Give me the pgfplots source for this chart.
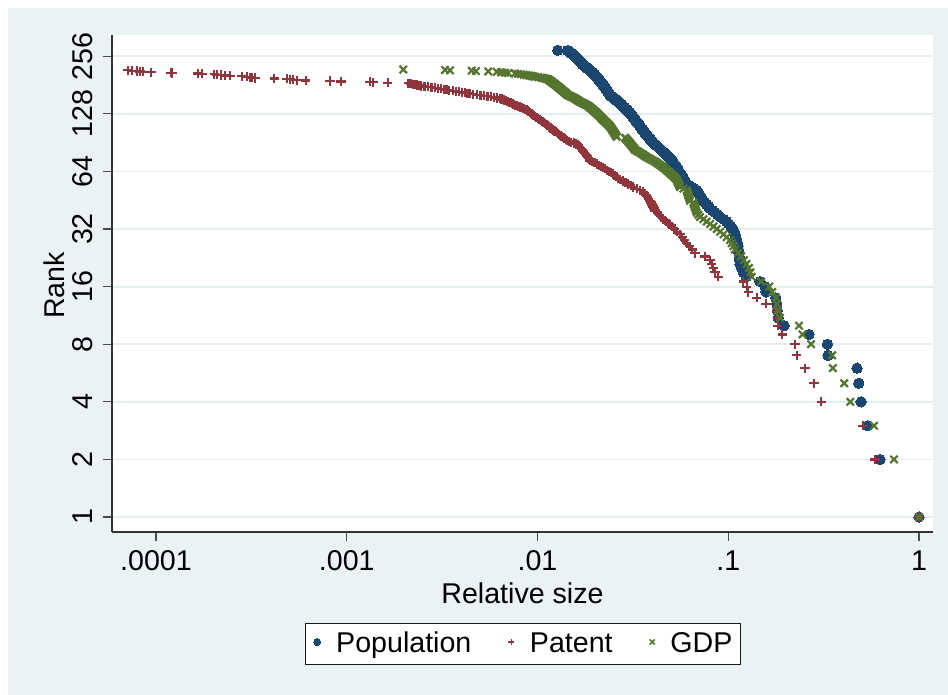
\documentclass[border=0pt]{standalone}
\usepackage{fontspec}
\setmainfont{Liberation Sans}
\usepackage{pgfplots}
\usepackage{pgfplotstable}
\pgfplotsset{compat=1.18}
\definecolor{stnavy}{RGB}{26,71,111}
\definecolor{stmaroon}{RGB}{144,53,59}
\definecolor{stgreen}{RGB}{85,117,47}
\definecolor{stbg}{RGB}{234,242,243}
\definecolor{stgrid}{RGB}{228,237,239}

\pgfplotstableread{
x y
1 1
0.6245 2
0.5383 3
0.4966 4
0.4831 5
0.4732 6
0.333 7
0.331 8
0.2649 9
0.1959 10
0.1828 11
0.1807 12
0.1795 13
0.1774 14
0.1578 15
0.1560 16
0.1467 17
0.1242 18
0.1199 19
0.1176 20
0.1153 21
0.1147 22
0.1142 23
0.1136 24
0.1130 25
0.1122 26
0.1115 27
0.1107 28
0.1095 29
0.1083 30
0.1071 31
0.1059 32
0.1033 33
0.1008 34
0.09817 35
0.09437 36
0.09057 37
0.08797 38
0.08537 39
0.08277 40
0.08017 41
0.07862 42
0.07707 43
0.07551 44
0.07396 45
0.07302 46
0.07208 47
0.07114 48
0.07020 49
0.06926 50
0.06832 51
0.06637 52
0.06443 53
0.06248 54
0.06053 55
0.05995 56
0.05936 57
0.05878 58
0.05819 59
0.05761 60
0.05702 61
0.05644 62
0.05585 63
0.05531 64
0.05477 65
0.05423 66
0.05368 67
0.05314 68
0.05260 69
0.05206 70
0.05152 71
0.05093 72
0.05035 73
0.04976 74
0.04918 75
0.04859 76
0.04800 77
0.04742 78
0.04683 79
0.04625 80
0.04566 81
0.04508 82
0.04451 83
0.04393 84
0.04335 85
0.04277 86
0.04219 87
0.04162 88
0.04104 89
0.04046 90
0.04011 91
0.03976 92
0.03941 93
0.03906 94
0.03871 95
0.03835 96
0.03800 97
0.03765 98
0.03730 99
0.03695 100
0.03660 101
0.03637 102
0.03613 103
0.03590 104
0.03567 105
0.03544 106
0.03520 107
0.03497 108
0.03474 109
0.03451 110
0.03427 111
0.03404 112
0.03381 113
0.03358 114
0.03334 115
0.03311 116
0.03291 117
0.03272 118
0.03252 119
0.03232 120
0.03213 121
0.03193 122
0.03173 123
0.03153 124
0.03134 125
0.03114 126
0.03094 127
0.03075 128
0.03055 129
0.03033 130
0.03012 131
0.02990 132
0.02968 133
0.02946 134
0.02925 135
0.02903 136
0.02881 137
0.02859 138
0.02838 139
0.02816 140
0.02794 141
0.02772 142
0.02751 143
0.02729 144
0.02707 145
0.02686 146
0.02666 147
0.02645 148
0.02625 149
0.02604 150
0.02584 151
0.02563 152
0.02543 153
0.02522 154
0.02502 155
0.02481 156
0.02461 157
0.02440 158
0.02420 159
0.02399 160
0.02390 161
0.02381 162
0.02371 163
0.02362 164
0.02353 165
0.02344 166
0.02335 167
0.02326 168
0.02317 169
0.02307 170
0.02298 171
0.02289 172
0.02280 173
0.02271 174
0.02262 175
0.02252 176
0.02243 177
0.02234 178
0.02225 179
0.02216 180
0.02207 181
0.02197 182
0.02188 183
0.02179 184
0.02170 185
0.02161 186
0.02152 187
0.02143 188
0.02134 189
0.02124 190
0.02115 191
0.02106 192
0.02097 193
0.02088 194
0.02079 195
0.02070 196
0.02061 197
0.02052 198
0.02043 199
0.02034 200
0.02025 201
0.02016 202
0.02006 203
0.01997 204
0.01988 205
0.01979 206
0.01970 207
0.01961 208
0.01951 209
0.01941 210
0.01931 211
0.01920 212
0.01910 213
0.01900 214
0.01890 215
0.01880 216
0.01870 217
0.01860 218
0.01850 219
0.01839 220
0.01829 221
0.01819 222
0.01809 223
0.01799 224
0.01789 225
0.01779 226
0.01768 227
0.01758 228
0.01748 229
0.01738 230
0.01731 231
0.01725 232
0.01718 233
0.01712 234
0.01705 235
0.01699 236
0.01692 237
0.01686 238
0.01679 239
0.01673 240
0.01666 241
0.01660 242
0.01653 243
0.01646 244
0.01640 245
0.01633 246
0.01627 247
0.01620 248
0.01614 249
0.01607 250
0.01601 251
0.01594 252
0.01588 253
0.01581 254
0.01575 255
0.01568 256
0.01562 257
0.01555 258
0.01549 259
0.01542 260
0.01535 261
0.01527 262
0.01520 263
0.01512 264
0.01505 265
0.01498 266
0.01490 267
0.01483 268
0.01476 269
0.01468 270
0.01461 271
0.01454 272
0.01446 273
0.01439 274
0.01276 275
}\pop

\pgfplotstableread{
x y
1 1
0.5879 2
0.5086 3
0.3074 4
0.2815 5
0.2526 6
0.2285 7
0.2239 8
0.1920 9
0.1817 10
0.1808 11
0.1795 12
0.1577 13
0.1409 14
0.1273 15
0.1249 16
0.1199 17
0.08867 18
0.08522 19
0.08350 20
0.08187 21
0.08024 22
0.07553 23
0.06695 24
0.06482 25
0.06269 26
0.06056 27
0.05899 28
0.05743 29
0.05586 30
0.05408 31
0.05230 32
0.05052 33
0.04890 34
0.04728 35
0.04566 36
0.04457 37
0.04348 38
0.04239 39
0.04130 40
0.04082 41
0.04034 42
0.03985 43
0.03937 44
0.03889 45
0.03829 46
0.03768 47
0.03708 48
0.03647 49
0.03587 50
0.03451 51
0.03314 52
0.03178 53
0.03084 54
0.02990 55
0.02895 56
0.02801 57
0.02707 58
0.02650 59
0.02592 60
0.02535 61
0.02478 62
0.02421 63
0.02363 64
0.02306 65
0.02253 66
0.02201 67
0.02148 68
0.02095 69
0.02042 70
0.01990 71
0.01937 72
0.01884 73
0.01867 74
0.01850 75
0.01833 76
0.01816 77
0.01799 78
0.01782 79
0.01765 80
0.01749 81
0.01732 82
0.01715 83
0.01698 84
0.01681 85
0.01664 86
0.01647 87
0.01630 88
0.01588 89
0.01547 90
0.01505 91
0.01464 92
0.01422 93
0.01404 94
0.01385 95
0.01367 96
0.01349 97
0.01330 98
0.01312 99
0.01295 100
0.01278 101
0.01261 102
0.01244 103
0.01227 104
0.01210 105
0.01197 106
0.01184 107
0.01170 108
0.01157 109
0.01144 110
0.01130 111
0.01117 112
0.01105 113
0.01092 114
0.01080 115
0.01068 116
0.01056 117
0.01043 118
0.01031 119
0.01020 120
0.01008 121
0.009966 122
0.009851 123
0.009736 124
0.009621 125
0.009506 126
0.009415 127
0.009324 128
0.009233 129
0.009141 130
0.009050 131
0.008959 132
0.008868 133
0.008777 134
0.008641 135
0.008505 136
0.008370 137
0.008234 138
0.008098 139
0.007939 140
0.007780 141
0.007671 142
0.007561 143
0.007452 144
0.007343 145
0.007233 146
0.007124 147
0.007015 148
0.006906 149
0.006796 150
0.006687 151
0.006578 152
0.006468 153
0.006359 154
0.006136 155
0.005913 156
0.005690 157
0.005467 158
0.005243 159
0.005020 160
0.004797 161
0.004574 162
0.004433 163
0.004293 164
0.004152 165
0.004012 166
0.003871 167
0.003730 168
0.003590 169
0.003449 170
0.003337 171
0.003225 172
0.003113 173
0.003001 174
0.002890 175
0.002778 176
0.002666 177
0.002554 178
0.002442 179
0.002385 180
0.002329 181
0.002272 182
0.002215 183
0.002159 184
0.002102 185
0.001639 186
0.001377 187
0.001324 188
0.0009328 189
0.0008168 190
0.0006091 191
0.0005465 192
0.0005245 193
0.0005040 194
0.0004845 195
0.0004171 196
0.0003304 197
0.0003174 198
0.0003110 199
0.0002989 200
0.0002813 201
0.0002443 202
0.0002300 203
0.0002192 204
0.0002081 205
0.0002021 206
0.0001748 207
0.0001654 208
0.0001218 209
0.0001198 210
0.00009415 211
0.00008579 212
0.00008245 213
0.00007921 214
0.00007459 215
0.00007107 216
}\patent

\pgfplotstableread{
x y
1 1
0.7393 2
0.5809 3
0.4364 4
0.4054 5
0.3533 6
0.3508 7
0.2716 8
0.2451 9
0.2349 10
0.1868 11
0.1823 12
0.1802 13
0.1780 14
0.1700 15
0.1641 16
0.1485 17
0.1326 18
0.1307 19
0.1284 20
0.1246 21
0.1209 22
0.1166 23
0.1125 24
0.1085 25
0.1064 26
0.1042 27
0.1021 28
0.09815 29
0.09443 30
0.09072 31
0.08700 32
0.08370 33
0.08039 34
0.07709 35
0.07411 36
0.07112 37
0.06973 38
0.06834 39
0.06779 40
0.06724 41
0.06669 42
0.06614 43
0.06559 44
0.06303 45
0.06262 46
0.06221 47
0.06180 48
0.06138 49
0.06097 50
0.06056 51
0.05821 52
0.05586 53
0.05542 54
0.05498 55
0.05454 56
0.05410 57
0.05366 58
0.05279 59
0.05192 60
0.05105 61
0.05018 62
0.04931 63
0.04844 64
0.04757 65
0.04667 66
0.04577 67
0.04486 68
0.04396 69
0.04306 70
0.04216 71
0.04120 72
0.04024 73
0.03929 74
0.03833 75
0.03737 76
0.03667 77
0.03596 78
0.03526 79
0.03455 80
0.03385 81
0.03314 82
0.03244 83
0.03216 84
0.03187 85
0.03159 86
0.03130 87
0.03102 88
0.03074 89
0.03045 90
0.03017 91
0.02989 92
0.02960 93
0.02932 94
0.02903 95
0.02875 96
0.02602 97
0.02586 98
0.02571 99
0.02555 100
0.02540 101
0.02524 102
0.02508 103
0.02493 104
0.02477 105
0.02461 106
0.02446 107
0.02430 108
0.02415 109
0.02399 110
0.02378 111
0.02358 112
0.02337 113
0.02316 114
0.02296 115
0.02275 116
0.02254 117
0.02234 118
0.02213 119
0.02196 120
0.02179 121
0.02162 122
0.02145 123
0.02128 124
0.02111 125
0.02094 126
0.02077 127
0.02060 128
0.02043 129
0.02026 130
0.02009 131
0.01992 132
0.01975 133
0.01958 134
0.01941 135
0.01924 136
0.01907 137
0.01890 138
0.01873 139
0.01856 140
0.01839 141
0.01815 142
0.01791 143
0.01767 144
0.01742 145
0.01718 146
0.01694 147
0.01670 148
0.01653 149
0.01636 150
0.01619 151
0.01603 152
0.01586 153
0.01569 154
0.01552 155
0.01535 156
0.01513 157
0.01490 158
0.01468 159
0.01445 160
0.01435 161
0.01426 162
0.01416 163
0.01406 164
0.01396 165
0.01387 166
0.01377 167
0.01367 168
0.01357 169
0.01347 170
0.01338 171
0.01328 172
0.01319 173
0.01310 174
0.01301 175
0.01293 176
0.01284 177
0.01275 178
0.01266 179
0.01257 180
0.01248 181
0.01240 182
0.01231 183
0.01222 184
0.01213 185
0.01204 186
0.01196 187
0.01187 188
0.01178 189
0.01170 190
0.01161 191
0.01152 192
0.01144 193
0.01135 194
0.01112 195
0.01089 196
0.01066 197
0.01043 198
0.01007 199
0.009703 200
0.009477 201
0.009250 202
0.009024 203
0.008743 204
0.008463 205
0.008182 206
0.007902 207
0.007621 208
0.007030 209
0.006755 210
0.006436 211
0.006111 212
0.005522 213
0.004760 214
0.004519 215
0.003478 216
0.003274 217
0.001979 218
}\gdp

\begin{document}
\begin{tikzpicture}[font=\fontsize{14.3}{17}\selectfont]
\useasboundingbox (-56pt,-81.5pt) rectangle (418pt,266pt);
\fill[white] (-56pt,-81.5pt) rectangle (418pt,266pt);
\fill[stbg] (-52pt,-81.5pt) rectangle (418pt,262pt);
\begin{axis}[
  at={(0pt,0pt)}, anchor=south west,
  scale only axis, width=410.5pt, height=248.5pt,
  axis background/.style={fill=white},
  xmode=log, ymode=log, log basis y=2,
  xmin=5.879e-5, xmax=1.184, ymin=0.835, ymax=330.4,
  axis x line*=bottom, axis y line*=left,
  axis line style={-, draw=black!80, line width=0.6pt},
  xtick={0.0001,0.001,0.01,0.1,1},
  xticklabels={.0001,.001,.01,.1,1},
  ytick={1,2,4,8,16,32,64,128,256},
  yticklabels={1,2,4,8,16,32,64,128,256},
  extra y ticks={16.2},
  extra y tick labels={Rank},
  extra y tick style={grid=none, tick style={draw=none}, yticklabel style={yshift=14pt}},
  xminorticks=false, yminorticks=false,
  tick align=outside, major tick length=4.5pt,
  tick style={draw=black!70, line width=0.6pt},
  ymajorgrids, grid style={stgrid, line width=0.9pt},
  xticklabel style={anchor=base, yshift=-15pt},
  yticklabel style={xshift=-5.5pt, rotate=90, anchor=base},
  xlabel={Relative size},
  xlabel style={at={(axis description cs:0.5,-0.1429)}, anchor=base},
  legend columns=3,
  legend style={at={(axis description cs:0.5006,-0.2254)}, anchor=center,
    draw=black!90, line width=0.5pt, fill=white,
    inner xsep=4.3pt, inner ysep=4.5pt,
    nodes={inner sep=0pt},
    /tikz/every odd column/.style={column sep=7.8pt},
    /tikz/every even column/.style={column sep=18.5pt}},
]
\addplot[only marks, mark=*, mark size=2.6pt, stnavy,
  mark options={line width=0pt, fill=stnavy, draw=stnavy},
  legend image code/.code={\draw[mark=*, mark size=1.75pt, stnavy, mark options={line width=0pt, fill=stnavy}] plot coordinates {(0pt,1pt)};}]
  table[x=x, y=y] {\pop};
\addplot[only marks, mark=+, mark size=2.3pt, stmaroon,
  mark options={line width=1.1pt},
  legend image code/.code={\draw[mark=+, mark size=1.5pt, stmaroon, mark options={line width=0.8pt}] plot coordinates {(0pt,1pt)};}]
  table[x=x, y=y] {\patent};
\addplot[only marks, mark=x, mark size=2.6pt, stgreen,
  mark options={line width=1.1pt},
  legend image code/.code={\draw[mark=x, mark size=1.8pt, stgreen, mark options={line width=0.8pt}] plot coordinates {(0pt,1pt)};}]
  table[x=x, y=y] {\gdp};
\legend{Population, Patent, GDP}
\end{axis}
\end{tikzpicture}
\end{document}
